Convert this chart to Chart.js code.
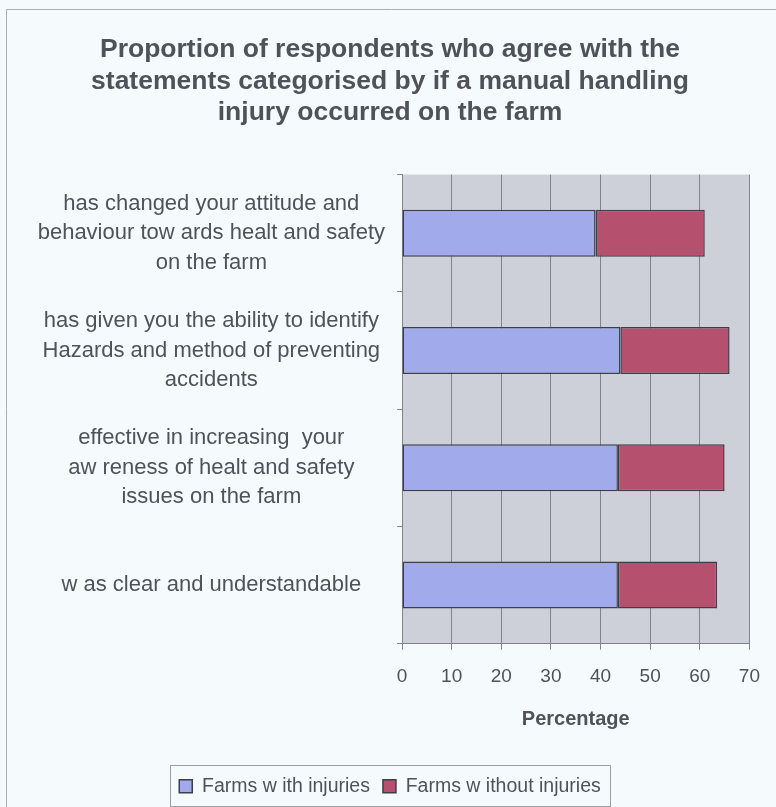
<!DOCTYPE html>
<html lang="en">

<head>
  <meta charset="UTF-8" />
  <title>Manual handling injury survey</title>
  <style>
    html, body { margin: 0; padding: 0; background: #f5fbfd; }
    #wrap { width: 776px; height: 807px; position: relative; }
  </style>
</head>

<body>
  <div id="wrap">
    <canvas id="myChart" width="776" height="807"></canvas>
  </div>

  <script src="https://cdn.jsdelivr.net/npm/chart.js"></script>

  <script>
    const statements = [
      ["has changed your attitude and", "behaviour tow ards healt and safety", "on the farm"],
      ["has given you the ability to identify", "Hazards and method of preventing", "accidents"],
      ["effective in increasing  your", "aw reness of healt and safety", "issues on the farm"],
      ["w as clear and understandable"],
    ];
    const withInjuries = [39, 44, 43.5, 43.5];
    const withoutInjuries = [22, 22, 21.5, 20];
    const xTicks = [0, 10, 20, 30, 40, 50, 60, 70];

    const textColor = "#4f5259";
    const lineColor = "#80838c";
    const font = "'Liberation Sans', Arial, sans-serif";

    // grey plot area, outer frame lines and a box round the legend items
    const decor = {
      id: "decor",
      beforeDraw(chart) {
        const { ctx, chartArea: a } = chart;
        ctx.save();
        ctx.fillStyle = "#cdd0d8";
        ctx.fillRect(a.left, a.top, a.right - a.left, a.bottom - a.top);
        ctx.strokeStyle = "#a9adb6";
        ctx.lineWidth = 1;
        ctx.beginPath();
        ctx.moveTo(6.5, 807);
        ctx.lineTo(6.5, 9.5);
        ctx.lineTo(776, 9.5);
        ctx.stroke();
        ctx.restore();
      },
      afterDraw(chart) {
        const boxes = chart.legend.legendHitBoxes;
        if (!boxes.length) return;
        const left = Math.min(...boxes.map((b) => b.left)) - 9;
        const right = Math.max(...boxes.map((b) => b.left + b.width)) + 9;
        const mid = boxes[0].top + boxes[0].height / 2;
        const { ctx } = chart;
        ctx.save();
        ctx.strokeStyle = "#9a9ea7";
        ctx.lineWidth = 1;
        ctx.strokeRect(Math.round(left) + 0.5, Math.round(mid - 21) + 0.5,
          Math.round(right - left), 41);
        ctx.restore();
      },
    };

    const ctx = document.getElementById("myChart");
    new Chart(ctx, {
      type: "bar",
      data: {
        labels: statements,
        datasets: [
          {
            label: "Farms w ith injuries",
            data: withInjuries,
            backgroundColor: "#a1abec",
            borderColor: "#3c3f47",
            borderWidth: 1.5,
            borderSkipped: false,
          },
          {
            label: "Farms w ithout injuries",
            data: withoutInjuries,
            backgroundColor: "#b5506f",
            borderColor: "#3c3f47",
            borderWidth: 1.5,
            borderSkipped: false,
          },
        ],
      },
      plugins: [decor],
      options: {
        indexAxis: "y",
        responsive: false,
        animation: false,
        layout: { padding: { left: 30, right: 26, top: 0, bottom: 1 } },
        datasets: { bar: { categoryPercentage: 1, barPercentage: 0.4 } },
        scales: {
          x: {
            stacked: true,
            min: 0,
            max: 70,
            afterBuildTicks: (axis) => { axis.ticks = xTicks.map((v) => ({ value: v })); },
            grid: { color: lineColor, lineWidth: 1, tickLength: 6 },
            border: { color: lineColor },
            ticks: { color: textColor, font: { family: font, size: 19 }, padding: 16 },
            title: {
              display: true,
              text: "Percentage",
              color: textColor,
              font: { family: font, size: 20, weight: "bold" },
              padding: { top: 3, bottom: 32 },
            },
          },
          y: {
            stacked: true,
            afterFit: (axis) => { axis.width = 372; },
            grid: { drawOnChartArea: false, color: lineColor, tickLength: 5 },
            border: { color: lineColor },
            ticks: {
              color: textColor,
              font: { family: font, size: 22, lineHeight: 1.34 },
              crossAlign: "center",
              padding: 12,
            },
          },
        },
        plugins: {
          tooltip: { enabled: false },
          title: {
            display: true,
            text: [
              "Proportion of respondents who agree with the",
              "statements categorised by if a manual handling",
              "injury occurred on the farm",
            ],
            color: textColor,
            font: { family: font, size: 26.5, weight: "bold", lineHeight: 1.19 },
            padding: { top: 34, bottom: 46 },
          },
          legend: {
            position: "bottom",
            labels: {
              color: textColor,
              font: { family: font, size: 19.5 },
              boxWidth: 13,
              boxHeight: 13,
              padding: 13,
            },
          },
        },
      },
    });
  </script>
</body>

</html>
